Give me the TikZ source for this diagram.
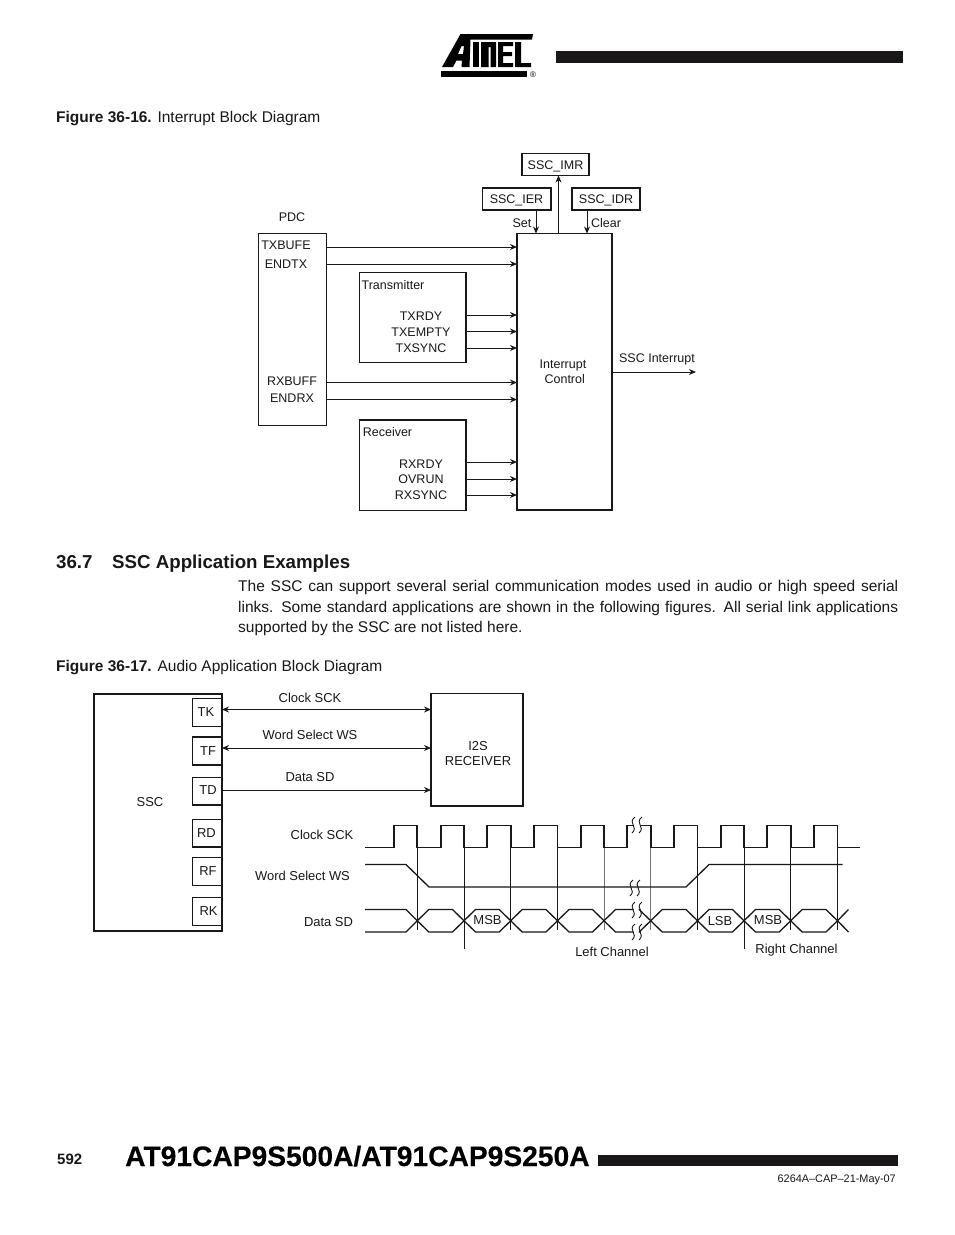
\documentclass[tikz,border=0pt]{standalone}
\usepackage{fontspec}
\setmainfont{Liberation Sans}
\newfontface\heavyface[FakeBold=0.22]{Liberation Sans Bold}
\usetikzlibrary{arrows.meta}
\definecolor{ink}{HTML}{1A1718}
\tikzset{
  x=1pt,y=-1pt,
  lbl/.style={inner sep=0pt,text=ink,font=\fontsize{12.5}{14.5}\selectfont,align=center},
  lblb/.style={lbl,font=\fontsize{12.95}{14.8}\selectfont},
  capt/.style={inner sep=0pt,anchor=base west,text=ink,font=\fontsize{15.5}{17}\selectfont},
  thinbox/.style={draw=ink,line width=1.1pt,inner sep=0pt,outer sep=0pt,anchor=north west},
  thickbox/.style={draw=ink,line width=1.8pt,inner sep=0pt,outer sep=0pt,anchor=north west},
  edge/.style={draw=ink,line width=1.8pt,line join=miter},
  sig/.style={draw=ink,line width=1pt},
  arr/.style={sig,-{Stealth[length=7pt,width=6pt]}},
  barr/.style={sig,{Stealth[length=7pt,width=6pt]}-{Stealth[length=7pt,width=6pt]}},
  clk/.style={draw=ink,line width=1.8pt,line join=miter},
  wave/.style={draw=ink,line width=1.3pt,line join=round},
  tick/.style={draw=ink,line width=.8pt},
  gtick/.style={draw=ink!60,line width=.8pt},
  squig/.style={draw=ink,line width=.9pt},
}
\newcommand{\sqg}[2]{%
  \draw[squig] (#1+2,#2) .. controls (#1-6,#2+6) and (#1+6,#2+10) .. (#1-1,#2+16);
  \draw[squig] (#1+9,#2) .. controls (#1+1,#2+6) and (#1+13,#2+10) .. (#1+6,#2+16);}
\newcommand{\sizedbox}[6]{%
  \node[#1,minimum width=#5-#3,minimum height=#6-#4] (#2) at (#3,#4) {};}
\begin{document}
\begin{tikzpicture}
\useasboundingbox[fill=white] (0,0) rectangle (954,1235);
% header
\fill[ink] (556,51) rectangle (903,63);
\fill[black,even odd rule]
  (460.5,34) -- (533,34) -- (532,39.5) -- (470.5,39.5) -- (469.5,67) -- (461.5,67) -- (462,60.5) -- (456.5,60.5) -- (453,67) -- (442,67) -- cycle
  (461.5,46) -- (464,46) -- (463,54) -- (458,54) -- cycle;
\fill[black] (473,42) rectangle (479,67);
\fill[black] (481,42) -- (496,42) -- (496,67) -- (490.5,67) -- (490.5,47) -- (488.5,47) -- (488.5,67) -- (481,67) -- cycle;
\fill[black] (498,42) -- (513,42) -- (513,46) -- (503,46) -- (503,52) -- (512,52) -- (512,56) -- (503,56) -- (503,63) -- (513,63) -- (513,67) -- (498,67) -- cycle;
\fill[black] (515,42) -- (521,42) -- (521,63) -- (531,63) -- (531,67) -- (515,67) -- cycle;
\fill[black] (441,71) rectangle (527,77);
\node[inner sep=0pt,font=\fontsize{8}{8}\selectfont] (reg) at (533,75) {®};
% captions
\node[capt] (fig16) at (56,122) {\textbf{Figure 36-16.} Interrupt Block Diagram};
\node[capt,font=\fontsize{18.7}{20}\selectfont\bfseries] (h367) at (56,568) {36.7};
\node[capt,font=\fontsize{18.7}{20}\selectfont\bfseries] (h367t) at (112,568) {SSC Application Examples};
\node[inner sep=0pt,anchor=north west,text width=660pt,align=justify,text=ink,font=\fontsize{15.5}{20.3}\selectfont] (para) at (238,580.5)
 {The SSC can support several serial communication modes used in audio or high speed serial\linebreak links. Some standard applications are shown in the following figures. All serial link applications\linebreak supported by the SSC are not listed here.};
\node[capt] (fig17) at (56,671) {\textbf{Figure 36-17.} Audio Application Block Diagram};
% Figure 36-16 boxes
\sizedbox{thickbox}{imr}{522}{153.5}{589}{175.5}
\sizedbox{thickbox}{ier}{482.5}{188}{551}{210}
\sizedbox{thickbox}{idr}{572}{188}{640}{210}
\sizedbox{thickbox}{ctrl}{517}{233.5}{612}{510}
\sizedbox{thinbox}{pdcb}{258.5}{233.5}{326.5}{425.5}
\sizedbox{thinbox}{txb}{359.5}{272.5}{466}{362.5}
\sizedbox{thinbox}{rxb}{359.5}{420}{466}{510.5}
\foreach \b in {pdcb,txb,rxb} \draw[edge] (\b.north west) -- (\b.north east) -- (\b.south east);
\node[lbl] (timr) at (555.5,166) {SSC\_IMR};
\node[lbl] (tier) at (516.5,200) {SSC\_IER};
\node[lbl] (tidr) at (606,200) {SSC\_IDR};
\node[lbl] (tset) at (522,223) {Set};
\node[lbl] (tclr) at (606,223) {Clear};
\node[lbl] (tpdc) at (292,217) {PDC};
\node[lbl] (tb) at (286,245) {TXBUFE};
\node[lbl] (et) at (286,264) {ENDTX};
\node[lbl] (rb) at (292,381) {RXBUFF};
\node[lbl] (er) at (292,398) {ENDRX};
\node[lbl] (ttr) at (393,285) {Transmitter};
\node[lbl] (t1) at (421,316) {TXRDY};
\node[lbl] (t2) at (421,332) {TXEMPTY};
\node[lbl] (t3) at (421,348) {TXSYNC};
\node[lbl] (trc) at (387.5,432) {Receiver};
\node[lbl] (r1) at (421,464) {RXRDY};
\node[lbl] (r2) at (421,479) {OVRUN};
\node[lbl] (r3) at (421,495) {RXSYNC};
\node[lbl] (ic) at (563,372) {Interrupt\\\ Control};
\node[lbl] (si) at (657,359) {SSC Interrupt};
\coordinate (iout) at (696,372);
\coordinate (yA) at (0,247);\coordinate (yB) at (0,264);\coordinate (yC) at (0,315);\coordinate (yD) at (0,331.5);
\coordinate (yE) at (0,348);\coordinate (yF) at (0,382.5);\coordinate (yG) at (0,399.5);\coordinate (yH) at (0,462);
\coordinate (yI) at (0,479);\coordinate (yJ) at (0,495);
\foreach \y in {yA,yB,yF,yG} \draw[arr] (pdcb.east |- \y) -- (ctrl.west |- \y);
\foreach \y in {yC,yD,yE} \draw[arr] (txb.east |- \y) -- (ctrl.west |- \y);
\foreach \y in {yH,yI,yJ} \draw[arr] (rxb.east |- \y) -- (ctrl.west |- \y);
\draw[arr] (ctrl.east |- iout) -- (iout);
\coordinate (xA) at (536,0);\coordinate (xB) at (558.5,0);\coordinate (xC) at (587,0);
\draw[arr] (ier.south -| xA) -- (ctrl.north -| xA);
\draw[arr] (idr.south -| xC) -- (ctrl.north -| xC);
\draw[arr] (ctrl.north -| xB) -- (imr.south -| xB);
% Figure 36-17 boxes
\sizedbox{thinbox}{ssc}{94}{694}{222}{931}
\draw[edge] (ssc.south west) -- (ssc.north west) -- (ssc.north east);
\sizedbox{thickbox}{tk}{192.5}{698.5}{222}{726.5}
\sizedbox{thickbox}{tf}{192.5}{737}{222}{765}
\sizedbox{thinbox}{td}{192.5}{777.5}{222}{805}
\sizedbox{thinbox}{rd}{192.5}{819.5}{222}{847}
\sizedbox{thickbox}{rf}{192.5}{857.5}{222}{885.5}
\sizedbox{thickbox}{rk}{192.5}{897.5}{222}{925.5}
\sizedbox{thickbox}{i2s}{431}{693.5}{523}{806}
\node[lblb] (tssc) at (150,802) {SSC};
\node[lblb] (ttk) at (206,712) {TK};
\node[lblb] (ttf) at (208,751) {TF};
\node[lblb] (ttd) at (208,790) {TD};
\node[lblb] (trd) at (206.5,833) {RD};
\node[lblb] (trf) at (208,871) {RF};
\node[lblb] (trk) at (208.5,911) {RK};
\node[lblb] (ti2s) at (478,753.5) {I2S\\RECEIVER};
\node[lblb] (l1) at (310,698) {Clock SCK};
\node[lblb] (l2) at (310,735) {Word Select WS};
\node[lblb] (l3) at (310,777) {Data SD};
\coordinate (yK) at (0,709.5);\coordinate (yL) at (0,748);\coordinate (yM) at (0,790);
\draw[barr] (tk.east |- yK) -- (i2s.west |- yK);
\draw[barr] (tf.east |- yL) -- (i2s.west |- yL);
\draw[arr] (td.east |- yM) -- (i2s.west |- yM);
\node[lblb] (w1) at (322,835) {Clock SCK};
\node[lblb] (w2) at (302.5,876) {Word Select WS};
\node[lblb] (w3) at (328.5,922) {Data SD};
\node[lblb] (msb1) at (487.5,920.5) {MSB};
\node[lblb] (lsb) at (720,921.5) {LSB};
\node[lblb] (msb2) at (768,920.5) {MSB};
\node[lblb] (lch) at (612,952) {Left Channel};
\node[lblb] (rch) at (796.5,950.5) {Right Channel};
% ticks
\foreach \x in {417.3,510.7,557.5,697.5,790.7,837.5} \draw[tick] (\x,847.5) -- (\x,930);
\foreach \x in {604,650.7} \draw[gtick] (\x,847.5) -- (\x,930);
\foreach \x in {464,744} \draw[tick] (\x,847.5) -- (\x,948.5);
% clock
\draw[clk] (365,847.5)
 \foreach \r/\f in {394/417.3,440.7/464,487/510.7,534/557.5,580.7/604}{ -- (\r,847.5) -- (\r,825.5) -- (\f,825.5) -- (\f,847.5)}
 -- (627,847.5) -- (627,825.5) -- (633.5,825.5);
\draw[clk] (641,825.5) -- (650.7,825.5) -- (650.7,847.5)
 \foreach \r/\f in {674/697.5,720.7/744,767/790.7,813.7/837.5}{ -- (\r,847.5) -- (\r,825.5) -- (\f,825.5) -- (\f,847.5)}
 -- (860,847.5);
% word select
\draw[wave] (365,864.5) -- (406,864.5) -- (429,887) -- (686,887) -- (709,864.5) -- (842.5,864.5);
% data
\draw[wave] (365,909.5) -- (406,909.5) -- (417.3,920.75);
\draw[wave] (365,932) -- (406,932) -- (417.3,920.75);
\foreach \a/\b in {417.3/464,464/510.7,510.7/557.5,557.5/604,650.7/697.5,697.5/744,744/790.7,790.7/837.5}
  \draw[wave] (\b,920.75) -- (\b-11.5,909.5) -- (\a+11.5,909.5) -- (\a,920.75) -- (\a+11.5,932) -- (\b-11.5,932) -- cycle;
\draw[wave] (633.5,909.5) -- (615.5,909.5) -- (604,920.75) -- (615.5,932) -- (633.5,932);
\draw[wave] (640.5,909.5) -- (639.2,909.5) -- (650.7,920.75) -- (639.2,932) -- (640.5,932);
\draw[wave] (837.5,920.75) -- (848.5,909.5);
\draw[wave] (837.5,920.75) -- (848.5,932);
% breaks
\sqg{633}{817}
\sqg{631}{880}
\sqg{633}{902}
\sqg{633}{924}
% footer
\node[inner sep=0pt,anchor=base west,text=ink,font=\fontsize{15}{16}\selectfont\bfseries] (pg) at (57,1164.5) {592};
\node[inner sep=0pt,anchor=base west,text=black,font=\fontsize{28.2}{30}\heavyface] (ttl) at (125,1166) {AT91CAP9S500A/AT91CAP9S250A};
\fill[ink] (598,1155) rectangle (898,1166);
\node[inner sep=0pt,anchor=east,text=ink,font=\fontsize{10.9}{13}\selectfont] (code) at (896,1179.5) {6264A–CAP–21-May-07};
\end{tikzpicture}
\end{document}
